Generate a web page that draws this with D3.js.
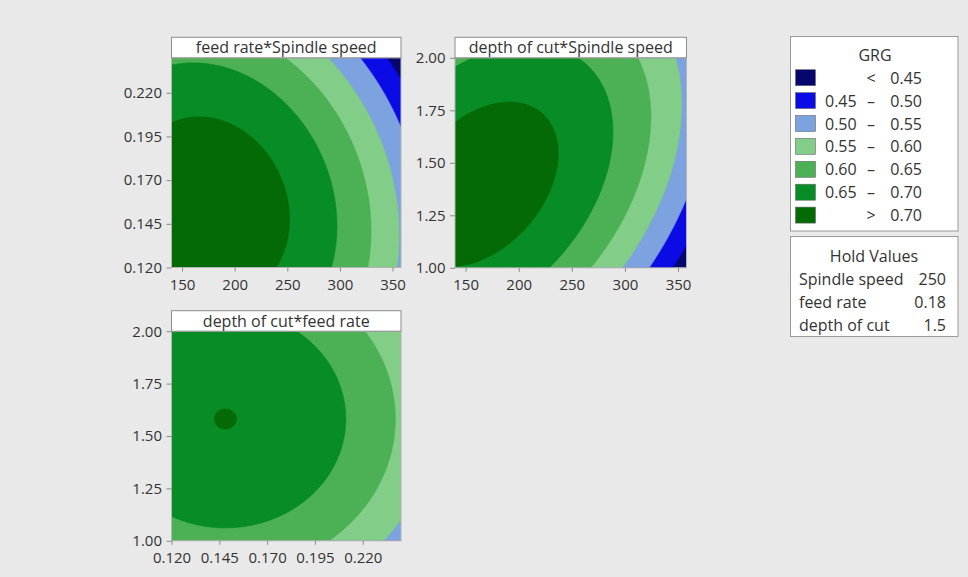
<!DOCTYPE html>
<html>
<head>
<meta charset="utf-8">
<script src="https://cdn.jsdelivr.net/npm/d3@7"></script>
<style>
  html, body { margin: 0; padding: 0; background: #e9e9e9; }
  svg { display: block; }
  text { font-family: "Open Sans", "Noto Sans", sans-serif; fill: #333; }
</style>
</head>
<body>
<svg id="chart" width="968" height="577"></svg>
<script>
// ---------------- data ----------------
const panelTitles = ["feed rate*Spindle speed", "depth of cut*Spindle speed", "depth of cut*feed rate"];
const spindleDomain = [140, 358];
const feedDomain = [0.12, 0.24];
const depthDomain = [1.0, 2.0];
const spindleTicks = [150, 200, 250, 300, 350];
const feedTicks = [0.120, 0.145, 0.170, 0.195, 0.220];
const depthTicks = [1.00, 1.25, 1.50, 1.75, 2.00];
// coded factor centres and half-ranges
const spindleCoding = [250, 100];
const feedCoding = [0.18, 0.06];
const depthCoding = [1.5, 0.5];
// fitted response-surface terms for each panel: [const, x, y, x^2, y^2, x*y] (coded units)
const coefFeedVsSpeed  = [0.689, -0.090, -0.0472, -0.057, -0.0438, -0.0125];
const coefDepthVsSpeed = [0.689, -0.090,  0.0140, -0.057, -0.0500,  0.0400];
const coefDepthVsFeed  = [0.6863, -0.0486, 0.0152, -0.0458, -0.0467, 0.0];
// contour levels and colours
const levels = [0.45, 0.50, 0.55, 0.60, 0.65, 0.70];
const levelColors = ["#06066c", "#0b0be6", "#7ca2e0", "#82cd88", "#4cb054", "#078c26", "#036a05"];
const legendLow = ["", "0.45", "0.50", "0.55", "0.60", "0.65", ""];
const legendMid = ["<", "–", "–", "–", "–", "–", ">"];
const legendHigh = ["0.45", "0.50", "0.55", "0.60", "0.65", "0.70", "0.70"];
const legendTitle = "GRG";
const holdTitle = "Hold Values";
const holdNames = ["Spindle speed", "feed rate", "depth of cut"];
const holdValues = ["250", "0.18", "1.5"];

// ---------------- drawing ----------------
const svg = d3.select("#chart");
const FONT = 16;
const TICKFONT = 15;

const panels = [
  { title: panelTitles[0], box: [171.5, 57.8, 401, 267.5], xDom: spindleDomain, yDom: feedDomain,
    xTicks: spindleTicks, yTicks: feedTicks, xFmt: d3.format("d"), yFmt: d3.format(".3f"),
    xc: spindleCoding, yc: feedCoding, coef: coefFeedVsSpeed },
  { title: panelTitles[1], box: [455, 57.8, 686.5, 267.8], xDom: spindleDomain, yDom: depthDomain,
    xTicks: spindleTicks, yTicks: depthTicks, xFmt: d3.format("d"), yFmt: d3.format(".2f"),
    xc: spindleCoding, yc: depthCoding, coef: coefDepthVsSpeed },
  { title: panelTitles[2], box: [171.5, 331.2, 401, 540.8], xDom: feedDomain, yDom: depthDomain,
    xTicks: feedTicks, yTicks: depthTicks, xFmt: d3.format(".3f"), yFmt: d3.format(".2f"),
    xc: feedCoding, yc: depthCoding, coef: coefDepthVsFeed }
];

function surface(c, u, v) {
  return c[0] + c[1]*u + c[2]*v + c[3]*u*u + c[4]*v*v + c[5]*u*v;
}

panels.forEach((p, idx) => {
  const [x0, y0, x1, y1] = p.box;
  const w = x1 - x0, h = y1 - y0;
  const xs = d3.scaleLinear().domain(p.xDom).range([x0, x1]);
  const ys = d3.scaleLinear().domain(p.yDom).range([y1, y0]);
  const g = svg.append("g");

  const clipId = "clip" + idx;
  svg.append("clipPath").attr("id", clipId).append("rect")
    .attr("x", x0).attr("y", y0).attr("width", w).attr("height", h);

  // grid of response values
  const n = Math.round(w), m = Math.round(h);
  const values = new Array(n * m);
  for (let j = 0; j < m; j++) {
    const py = y0 + (j + 0.5) * h / m;
    const v = (ys.invert(py) - p.yc[0]) / p.yc[1];
    for (let i = 0; i < n; i++) {
      const px = x0 + (i + 0.5) * w / n;
      const u = (xs.invert(px) - p.xc[0]) / p.xc[1];
      values[i + j * n] = surface(p.coef, u, v);
    }
  }
  const contours = d3.contours().size([n, m]).thresholds(levels)(values);
  const proj = d3.geoTransform({
    point: function(x, y) { this.stream.point(x0 + x * w / n, y0 + y * h / m); }
  });
  const path = d3.geoPath(proj);

  const cg = g.append("g").attr("clip-path", `url(#${clipId})`);
  cg.append("rect").attr("x", x0).attr("y", y0).attr("width", w).attr("height", h)
    .attr("fill", levelColors[0]);
  cg.selectAll("path.band").data(contours).join("path")
    .attr("class", "band")
    .attr("d", path)
    .attr("fill", (d, k) => levelColors[k + 1])
    .attr("stroke", (d, k) => levelColors[k + 1])
    .attr("stroke-width", 0.6);

  // frame
  g.append("rect").attr("x", x0).attr("y", y0).attr("width", w).attr("height", h)
    .attr("fill", "none").attr("stroke", "#b4b4b4").attr("stroke-width", 1);

  // title strip
  g.append("rect").attr("x", x0).attr("y", y0 - 20.5).attr("width", w).attr("height", 20.5)
    .attr("fill", "#ffffff").attr("stroke", "#8e8e8e").attr("stroke-width", 1);
  g.append("text").attr("x", (x0 + x1) / 2).attr("y", y0 - 10.5)
    .attr("text-anchor", "middle").attr("dominant-baseline", "central")
    .attr("font-size", FONT).text(p.title);

  // axes
  const xAxis = d3.axisBottom(xs).tickValues(p.xTicks).tickFormat(p.xFmt).tickSize(4).tickPadding(7.5);
  const yAxis = d3.axisLeft(ys).tickValues(p.yTicks).tickFormat(p.yFmt).tickSize(5).tickPadding(4.5);
  const gx = g.append("g").attr("transform", `translate(0,${y1})`).call(xAxis);
  const gy = g.append("g").attr("transform", `translate(${x0},0)`).call(yAxis);
  [gx, gy].forEach(ax => {
    ax.select(".domain").remove();
    ax.selectAll(".tick line").attr("stroke", "#8a8a8a");
    ax.selectAll(".tick text").attr("font-size", TICKFONT).attr("fill", "#333")
      .style("font-family", '"Open Sans", "Noto Sans", sans-serif');
  });
});

// ---------------- legend ----------------
const lg = svg.append("g");
lg.append("rect").attr("x", 790.5).attr("y", 36.5).attr("width", 167.5).attr("height", 194.5)
  .attr("fill", "#ffffff").attr("stroke", "#9a9a9a");
lg.append("text").attr("x", 875).attr("y", 55).attr("text-anchor", "middle")
  .attr("dominant-baseline", "central").attr("font-size", FONT).text(legendTitle);
levelColors.forEach((col, k) => {
  const cy = 77.7 + k * 22.9;
  lg.append("rect").attr("x", 795.5).attr("y", cy - 8).attr("width", 20).attr("height", 16)
    .attr("fill", col).attr("stroke", "#6a6a6a").attr("stroke-width", 0.6);
  if (legendLow[k]) {
    lg.append("text").attr("x", 825).attr("y", cy).attr("dominant-baseline", "central")
      .attr("font-size", FONT).text(legendLow[k]);
  }
  lg.append("text").attr("x", 871).attr("y", cy).attr("text-anchor", "middle")
    .attr("dominant-baseline", "central").attr("font-size", FONT).text(legendMid[k]);
  lg.append("text").attr("x", 922).attr("y", cy).attr("text-anchor", "end")
    .attr("dominant-baseline", "central").attr("font-size", FONT).text(legendHigh[k]);
});

const hg = svg.append("g");
hg.append("rect").attr("x", 790.5).attr("y", 236.5).attr("width", 167.5).attr("height", 100)
  .attr("fill", "#ffffff").attr("stroke", "#9a9a9a");
hg.append("text").attr("x", 874).attr("y", 256).attr("text-anchor", "middle")
  .attr("dominant-baseline", "central").attr("font-size", FONT).text(holdTitle);
holdNames.forEach((name, k) => {
  const cy = 278.5 + k * 23.4;
  hg.append("text").attr("x", 799).attr("y", cy).attr("dominant-baseline", "central")
    .attr("font-size", FONT).text(name);
  hg.append("text").attr("x", 946).attr("y", cy).attr("text-anchor", "end")
    .attr("dominant-baseline", "central").attr("font-size", FONT).text(holdValues[k]);
});
</script>
</body>
</html>
